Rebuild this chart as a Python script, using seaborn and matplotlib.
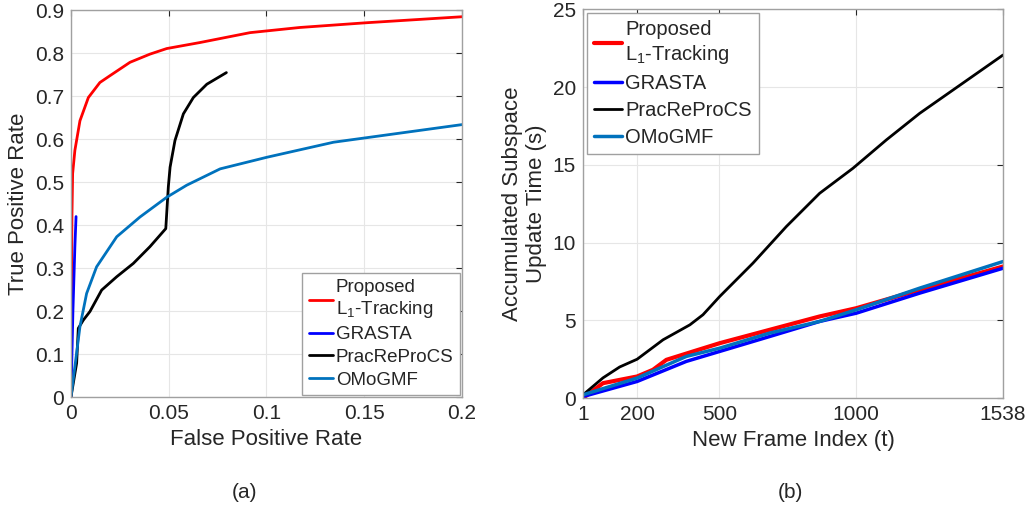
import numpy as np
import pandas as pd
import matplotlib
matplotlib.use("Agg")
import matplotlib.pyplot as plt
import seaborn as sns

# (a) ROC curves
roc_labels = ["Proposed\nL$_1$-Tracking", "GRASTA", "PracReProCS", "OMoGMF"]
roc_colors = ["#ff0000", "#0000ff", "#000000", "#0072bd"]

fpr_l1 = [0, 0.0002, 0.0005, 0.00085, 0.002, 0.0046, 0.0089, 0.0148, 0.02, 0.0302,
          0.0404, 0.049, 0.066, 0.0916, 0.117, 0.151, 0.2]
tpr_l1 = [0, 0.2, 0.42, 0.52, 0.574, 0.643, 0.697, 0.732, 0.748, 0.779,
          0.798, 0.811, 0.825, 0.848, 0.86, 0.871, 0.885]

fpr_grasta = [0, 0.001, 0.002, 0.0026]
tpr_grasta = [0, 0.2, 0.35, 0.42]

fpr_prac = [0, 0.0029, 0.00375, 0.0063, 0.0097, 0.0157, 0.0234, 0.0319, 0.0404, 0.0485,
            0.0498, 0.0507, 0.0532, 0.0575, 0.0626, 0.0695, 0.0795]
tpr_prac = [0, 0.079, 0.16, 0.179, 0.199, 0.249, 0.28, 0.311, 0.35, 0.392,
            0.489, 0.535, 0.597, 0.659, 0.697, 0.728, 0.755]

fpr_omo = [0, 0.002, 0.0046, 0.008, 0.0131, 0.0234, 0.0353, 0.049, 0.0592, 0.0763,
           0.1002, 0.1343, 0.2]
tpr_omo = [0, 0.071, 0.164, 0.241, 0.303, 0.373, 0.419, 0.465, 0.493, 0.531,
           0.558, 0.593, 0.634]

# (b) accumulated update time
t_l1 = [1, 74, 199, 257, 306, 404, 501, 684, 867, 1001, 1233, 1538]
time_l1 = [0.0, 0.96, 1.39, 1.82, 2.46, 3.0, 3.53, 4.39, 5.25, 5.78, 6.96, 8.46]

t_grasta = [1, 199, 379, 501, 684, 867, 1001, 1233, 1538]
time_grasta = [0.1, 1.07, 2.36, 3.0, 3.96, 4.93, 5.46, 6.75, 8.35]

t_prac = [1, 74, 135, 199, 294, 392, 440, 501, 623, 745, 867, 989, 1111, 1233, 1355, 1538]
time_prac = [0.21, 1.3, 2.0, 2.5, 3.75, 4.71, 5.36, 6.53, 8.68, 11.03, 13.17, 14.78,
             16.6, 18.31, 19.81, 22.06]

t_omo = [1, 199, 379, 501, 684, 867, 1001, 1233, 1538]
time_omo = [0.21, 1.29, 2.68, 3.21, 4.18, 4.93, 5.68, 7.07, 8.78]

roc_x_ticks = [0, 0.05, 0.1, 0.15, 0.2]
roc_x_ticklabels = ["0", "0.05", "0.1", "0.15", "0.2"]
roc_y_ticks = [0, 0.1, 0.2, 0.3, 0.4, 0.5, 0.6, 0.7, 0.8, 0.9]
roc_y_ticklabels = ["0", "0.1", "0.2", "0.3", "0.4", "0.5", "0.6", "0.7", "0.8", "0.9"]
time_x_ticks = [1, 200, 500, 1000, 1538]
time_y_ticks = [0, 5, 10, 15, 20, 25]

sns.set_theme(style="whitegrid")
plt.rcParams["font.family"] = ["Liberation Sans", "DejaVu Sans"]
plt.rcParams["mathtext.fontset"] = "custom"
plt.rcParams["mathtext.rm"] = "Liberation Sans"
plt.rcParams["mathtext.it"] = "Liberation Sans"

fig = plt.figure(figsize=(10.33, 5.15), dpi=100)
ax1 = fig.add_axes([0.0687, 0.229, 0.3785, 0.751])
ax2 = fig.add_axes([0.5644, 0.227, 0.4066, 0.755])

txt_col = "#262626"
roc_series = [(fpr_l1, tpr_l1), (fpr_grasta, tpr_grasta), (fpr_prac, tpr_prac), (fpr_omo, tpr_omo)]
for (xs, ys), lab, col in zip(roc_series, roc_labels, roc_colors):
    df = pd.DataFrame({"x": xs, "y": ys})
    sns.lineplot(data=df, x="x", y="y", ax=ax1, color=col, lw=2, label=lab,
                 sort=False, estimator=None)

time_series = [(t_l1, time_l1), (t_grasta, time_grasta), (t_prac, time_prac), (t_omo, time_omo)]
time_lw = [3, 2.5, 2, 2.5]
for (xs, ys), lab, col, lw in zip(time_series, roc_labels, roc_colors, time_lw):
    df = pd.DataFrame({"x": xs, "y": ys})
    sns.lineplot(data=df, x="x", y="y", ax=ax2, color=col, lw=lw, label=lab,
                 sort=False, estimator=None)

ax1.set_xlim(0, 0.2)
ax1.set_ylim(0, 0.9)
ax1.set_xticks(roc_x_ticks, roc_x_ticklabels)
ax1.set_yticks(roc_y_ticks, roc_y_ticklabels)
ax1.set_xlabel("False Positive Rate", fontsize=16, color=txt_col)
ax1.set_ylabel("True Positive Rate", fontsize=16, color=txt_col)

ax2.set_xlim(1, 1538)
ax2.set_ylim(0, 25)
ax2.set_xticks(time_x_ticks, [str(v) for v in time_x_ticks])
ax2.set_yticks(time_y_ticks, [str(v) for v in time_y_ticks])
ax2.set_xlabel("New Frame Index (t)", fontsize=16, color=txt_col)
ax2.set_ylabel("Accumulated Subspace\nUpdate Time (s)", fontsize=16, color=txt_col,
               multialignment="center")

for ax in (ax1, ax2):
    ax.grid(True, color="#e6e6e6", lw=0.8)
    ax.tick_params(direction="in", length=4, width=0.8, labelsize=15,
                   colors=txt_col, top=True, right=True, pad=5)
    for sp in ax.spines.values():
        sp.set_color("#a0a0a0")
        sp.set_linewidth(1)

leg1 = ax1.legend(loc="lower right", fontsize=13.5, handlelength=1.3, handletextpad=0.15,
                  borderpad=0.35, labelspacing=0.3, borderaxespad=0.1, fancybox=False,
                  framealpha=1)
leg1.get_frame().set_edgecolor("#a0a0a0")
leg2 = ax2.legend(loc="upper left", fontsize=14.5, handlelength=1.4, handletextpad=0.15,
                  borderpad=0.35, labelspacing=0.4, borderaxespad=0.2, fancybox=False,
                  framealpha=1)
leg2.get_frame().set_edgecolor("#a0a0a0")

fig.text(0.237, 0.043, "(a)", fontsize=15, ha="center", va="center", color=txt_col)
fig.text(0.765, 0.043, "(b)", fontsize=15, ha="center", va="center", color=txt_col)

fig.savefig("out.png", dpi=100)
